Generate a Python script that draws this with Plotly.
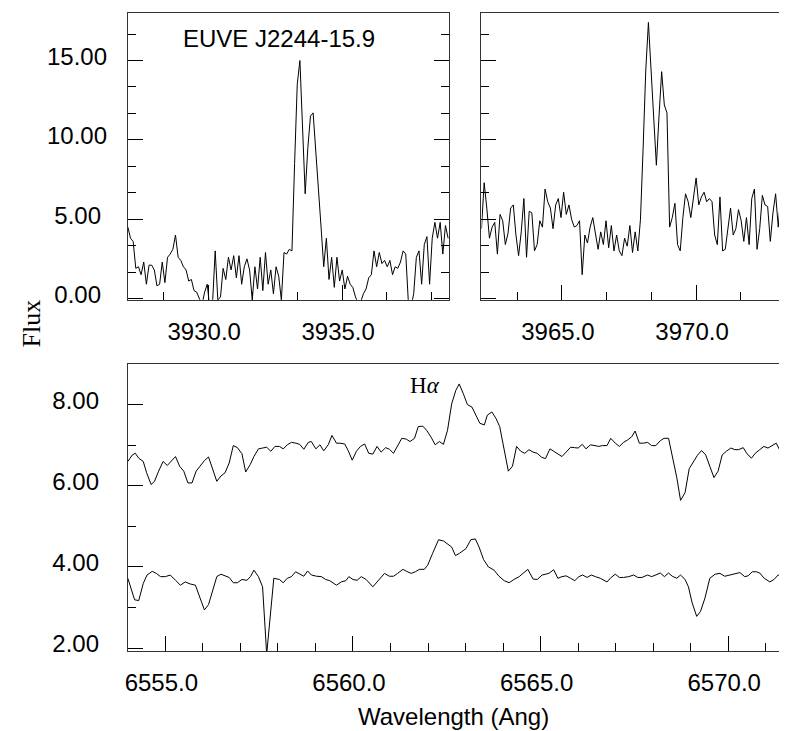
import plotly.graph_objects as go

# ---------------- data ----------------
# Ca II K region (top-left panel): uniform wavelength grid
k_start = 3927.0
k_step = 0.0988
k_flux = [
    4.5, 3.8, 3.6, 1.9, 2.0, 1.5, 2.3, 0.9, 2.1, 2.1,
    1.8, 0.8, 0.9, 2.3, 1.0, 2.6, 2.8, 3.1, 4.0, 2.6,
    2.4, 2.0, 1.8, 1.1, 1.2, 0.5, 0.4, 0.0, -0.4, 0.4,
    0.9, -0.7, -0.3, 3.0, -0.1, 0.1, 1.9, 1.2, 2.6, 1.8,
    2.7, 1.3, 2.7, 0.9, 2.0, 2.5, 1.8, -0.1, 2.0, 0.6,
    2.6, 0.5, 2.9, 0.9, 1.8, 0.3, 2.0, 1.4, -0.1, 2.9,
    2.8, 3.1, 3.0, 8.5, 13.5, 15.0, 11.0, 6.6, 9.5, 11.5,
    11.7, 9.5, 7.0, 4.5, 2.0, 3.8, 1.2, 2.6, 0.7, 2.6,
    1.1, 1.8, 0.6, 1.4, 0.9, 0.7, 0.1, -0.3, -0.2, 0.3,
    0.6, 1.3, 1.5, 3.0, 2.0, 2.9, 2.2, 2.4, 2.0, 2.4,
    1.5, 2.0, 1.9, 2.3, 3.0, 2.8, -0.3, -0.5, 0.3, 2.6,
    3.0, 0.9, 3.4, 3.9, 0.9, 3.8, 4.8, 3.8, 4.8, 2.8,
    4.6, 3.8,
]
k_wave = [k_start + i * k_step for i in range(len(k_flux))]

# Ca II H region (top-right panel)
h_start = 3962.0
h_step = 0.0988
h_flux = [
    4.4, 7.3, 5.7, 3.8, 4.5, 4.8, 2.8, 5.3, 4.9, 3.4,
    4.1, 5.7, 5.9, 4.0, 2.7, 4.2, 6.3, 2.6, 5.5, 5.4,
    3.0, 3.4, 4.9, 4.5, 6.9, 6.1, 5.7, 4.4, 5.9, 6.3,
    5.1, 6.7, 5.3, 5.9, 5.0, 4.5, 4.6, 4.9, 1.5, 4.0,
    3.5, 4.5, 5.1, 4.2, 3.1, 4.2, 3.4, 4.9, 3.2, 4.6,
    3.0, 4.0, 3.0, 2.7, 3.8, 3.3, 4.6, 2.9, 4.2, 3.0,
    5.0, 9.5, 14.4, 17.4, 14.3, 11.0, 8.4, 11.5, 14.3, 12.2,
    11.7, 4.5, 5.1, 6.0, 3.4, 3.0, 5.1, 6.6, 6.1, 5.1,
    6.2, 7.6, 5.9, 6.4, 6.7, 6.1, 6.3, 6.1, 4.0, 3.4,
    6.4, 3.0, 3.1, 4.6, 5.7, 4.0, 4.4, 5.6, 4.9, 3.6,
    5.1, 3.4, 6.3, 6.9, 3.1, 4.4, 6.5, 5.9, 5.8, 3.6,
    5.4, 6.6, 4.5, 6.6, 2.6, 3.4, 3.3, 4.0, 3.8, 4.2,
    4.0,
]
h_wave = [h_start + i * h_step for i in range(len(h_flux))]

# H-alpha region (bottom panel), upper spectrum
ha_top_wave = [
    6554.00, 6554.12, 6554.20, 6554.29, 6554.41, 6554.50, 6554.62, 6554.71, 6554.82, 6554.94,
    6555.05, 6555.15, 6555.27, 6555.38, 6555.49, 6555.60, 6555.71, 6555.82, 6555.93,
    6556.04, 6556.15, 6556.27, 6556.37, 6556.48, 6556.59, 6556.70, 6556.81, 6556.92,
    6557.04, 6557.14, 6557.26, 6557.36, 6557.48, 6557.59, 6557.70, 6557.81, 6557.92,
    6558.04, 6558.14, 6558.25, 6558.36, 6558.48, 6558.58, 6558.69, 6558.81, 6558.89,
    6559.01, 6559.12, 6559.22, 6559.34, 6559.44, 6559.56, 6559.65, 6559.78, 6559.87, 6559.98,
    6560.09, 6560.20, 6560.31, 6560.42, 6560.53, 6560.64, 6560.75, 6560.87, 6560.97,
    6561.08, 6561.19, 6561.30, 6561.42, 6561.52, 6561.64, 6561.74, 6561.86, 6561.96,
    6562.08, 6562.19, 6562.30, 6562.41, 6562.52, 6562.63, 6562.74, 6562.83, 6562.94,
    6563.05, 6563.17, 6563.28, 6563.38, 6563.50, 6563.58, 6563.70, 6563.81, 6563.91,
    6564.00, 6564.14, 6564.25, 6564.36, 6564.47, 6564.58, 6564.69, 6564.80, 6564.91,
    6565.03, 6565.13, 6565.25, 6565.35, 6565.47, 6565.57, 6565.68, 6565.80, 6565.90,
    6566.00, 6566.11, 6566.21, 6566.33, 6566.43, 6566.55, 6566.65, 6566.77, 6566.87, 6566.99,
    6567.10, 6567.21, 6567.32, 6567.43, 6567.52, 6567.63, 6567.74, 6567.85, 6567.96,
    6568.07, 6568.19, 6568.29, 6568.41, 6568.51, 6568.63, 6568.73, 6568.85, 6568.96,
    6569.07, 6569.18, 6569.29, 6569.40, 6569.51, 6569.62, 6569.73, 6569.84, 6569.95,
    6570.07, 6570.18, 6570.28, 6570.40, 6570.50, 6570.62, 6570.72, 6570.84, 6570.95,
    6571.06, 6571.17, 6571.28, 6571.39, 6571.49, 6571.59, 6571.68, 6571.78, 6571.90,
]
ha_top_flux = [
    6.60, 6.76, 6.80, 6.68, 6.60, 6.32, 6.03, 6.11, 6.36, 6.60,
    6.50, 6.60, 6.72, 6.48, 6.36, 6.07, 6.07, 6.36, 6.48,
    6.62, 6.71, 6.40, 6.11, 6.24, 6.32, 6.56, 6.99, 6.94,
    6.79, 6.34, 6.52, 6.72, 6.91, 6.93, 6.95, 6.85, 6.97,
    6.97, 6.91, 7.01, 7.07, 7.05, 7.02, 6.90, 7.07, 7.09,
    6.91, 7.01, 6.86, 7.01, 7.24, 7.05, 7.05, 7.03, 6.87, 6.63,
    6.85, 6.97, 7.03, 6.80, 6.78, 6.97, 6.83, 6.94, 6.90,
    6.80, 6.98, 7.17, 7.15, 7.09, 7.17, 7.46, 7.47, 7.37,
    7.20, 7.01, 7.09, 7.02, 7.37, 8.02, 8.35, 8.51, 8.27,
    8.00, 7.94, 7.74, 7.54, 7.50, 7.74, 7.82, 7.66, 7.46,
    7.01, 6.36, 6.48, 6.97, 6.85, 6.80, 6.89, 6.83, 6.80,
    6.70, 6.67, 6.91, 6.85, 6.79, 6.72, 6.83, 6.95, 6.94,
    6.93, 7.02, 6.91, 7.01, 6.99, 6.97, 6.99, 6.99, 7.17, 7.05,
    6.97, 7.07, 7.13, 7.21, 7.35, 7.05, 7.05, 7.07, 6.99,
    6.99, 7.11, 7.17, 7.17, 6.76, 6.20, 5.64, 5.83, 6.42,
    6.60, 6.75, 6.87, 6.76, 6.48, 6.20, 6.36, 6.76, 6.85,
    6.93, 6.89, 6.89, 6.94, 6.79, 6.68, 6.80, 6.89, 6.97,
    6.93, 6.99, 7.05, 6.85, 6.85, 7.09, 7.03, 6.86, 6.75,
]

# H-alpha region, lower spectrum
ha_low_wave = [
    6554.00, 6554.09, 6554.18, 6554.29, 6554.41, 6554.51, 6554.65, 6554.76, 6554.87,
    6555.00, 6555.13, 6555.27, 6555.40, 6555.53, 6555.66, 6555.80, 6555.93,
    6556.04, 6556.15, 6556.27, 6556.37, 6556.48, 6556.59, 6556.70, 6556.81, 6556.92,
    6557.04, 6557.17, 6557.27, 6557.36, 6557.48, 6557.59, 6557.70, 6557.89,
    6558.04, 6558.14, 6558.25, 6558.36, 6558.47, 6558.58, 6558.69, 6558.79, 6558.89,
    6559.03, 6559.16, 6559.27, 6559.38, 6559.56, 6559.69, 6559.81, 6559.89,
    6560.00, 6560.11, 6560.22, 6560.35, 6560.53, 6560.66, 6560.84, 6560.97,
    6561.08, 6561.19, 6561.33, 6561.43, 6561.55, 6561.66, 6561.77, 6561.90, 6561.99,
    6562.12, 6562.28, 6562.41, 6562.52, 6562.63, 6562.73, 6562.83,
    6563.01, 6563.14, 6563.26, 6563.36, 6563.48, 6563.61, 6563.76, 6563.89,
    6564.03, 6564.16, 6564.29, 6564.43, 6564.53, 6564.66, 6564.80, 6564.91,
    6565.04, 6565.22, 6565.35, 6565.46, 6565.57, 6565.68, 6565.80, 6565.91,
    6566.02, 6566.12, 6566.24, 6566.35, 6566.46, 6566.59, 6566.77, 6566.88, 6566.99,
    6567.10, 6567.21, 6567.35, 6567.48, 6567.59, 6567.70, 6567.85, 6567.96,
    6568.07, 6568.19, 6568.30, 6568.41, 6568.51, 6568.63, 6568.73, 6568.85, 6568.94,
    6569.04, 6569.16, 6569.26, 6569.38, 6569.51, 6569.65, 6569.78, 6569.91,
    6570.04, 6570.18, 6570.31, 6570.44, 6570.53, 6570.64, 6570.75, 6570.84, 6570.96,
    6571.11, 6571.22, 6571.33, 6571.43, 6571.55, 6571.68, 6571.78, 6571.90,
]
ha_low_flux = [
    3.72, 3.43, 3.19, 3.17, 3.59, 3.80, 3.89, 3.84, 3.76,
    3.76, 3.80, 3.67, 3.55, 3.63, 3.58, 3.55, 3.19,
    2.94, 3.07, 3.43, 3.76, 3.82, 3.77, 3.74, 3.61, 3.61,
    3.69, 3.67, 3.76, 3.92, 3.76, 3.51, 1.85, 3.72,
    3.69, 3.61, 3.72, 3.76, 3.88, 3.82, 3.77, 3.90, 3.80,
    3.77, 3.76, 3.69, 3.66, 3.55, 3.63, 3.66, 3.76,
    3.69, 3.67, 3.76, 3.69, 3.51, 3.66, 3.84, 3.77,
    3.77, 3.84, 3.94, 3.89, 3.84, 3.88, 3.94, 3.94, 4.04,
    4.33, 4.67, 4.64, 4.57, 4.49, 4.28, 4.33,
    4.45, 4.67, 4.69, 4.49, 4.18, 4.00, 3.92, 3.77,
    3.66, 3.61, 3.69, 3.76, 3.84, 3.94, 3.70, 3.69,
    3.80, 3.84, 3.93, 3.72, 3.76, 3.78, 3.72, 3.66,
    3.76, 3.80, 3.74, 3.80, 3.76, 3.72, 3.63, 3.74, 3.82,
    3.74, 3.74, 3.76, 3.80, 3.74, 3.74, 3.80, 3.76,
    3.80, 3.85, 3.76, 3.85, 3.77, 3.72, 3.80, 3.69, 3.51,
    3.11, 2.78, 2.90, 3.23, 3.72, 3.82, 3.84, 3.77,
    3.80, 3.82, 3.86, 3.76, 3.78, 3.88, 3.88, 3.85, 3.72,
    3.63, 3.69, 3.80, 3.80, 3.88, 3.93, 3.19, 2.90,
]

title_text = "EUVE J2244-15.9"
line_label = "H<i>α</i>"
x_title = "Wavelength (Ang)"
y_title = "Flux"

# ---------------- layout helpers ----------------
W, H = 787, 731


def fx(p):
    return p / W


def fy(p):
    return (H - p) / H


SANS = "Liberation Sans, Arial, Helvetica, sans-serif"
SERIF = "Liberation Serif, Times New Roman, serif"
tickfont = dict(family=SANS, size=24, color="black")
PADY = "\u2005"


def minor(dtick, tick0):
    return dict(ticks="inside", ticklen=8, tickwidth=1, tickcolor="black",
                dtick=dtick, tick0=tick0, showgrid=False)


base = dict(showline=True, linecolor="#333", linewidth=1, ticks="inside",
            ticklen=15, tickwidth=1, tickcolor="black", showgrid=False,
            zeroline=False, tickfont=tickfont)
xlab = dict(tickformat=".1f", ticklabelstandoff=10, ticklabelshift=-4)

fig = go.Figure()
line = dict(color="black", width=1)
fig.add_trace(go.Scatter(x=k_wave, y=k_flux, mode="lines", line=line, xaxis="x", yaxis="y"))
fig.add_trace(go.Scatter(x=h_wave, y=h_flux, mode="lines", line=line, xaxis="x2", yaxis="y2"))
fig.add_trace(go.Scatter(x=ha_top_wave, y=ha_top_flux, mode="lines", line=line, xaxis="x3", yaxis="y3"))
fig.add_trace(go.Scatter(x=ha_low_wave, y=ha_low_flux, mode="lines", line=line, xaxis="x3", yaxis="y3"))

top_dom = [fy(295), fy(5)]
bot_dom = [fy(650), fy(360)]
top_range = [-0.08, 18.0]
bot_range = [1.93, 9.0]

fig.update_layout(
    width=W, height=H, autosize=False,
    margin=dict(l=0, r=0, t=0, b=0, pad=0),
    paper_bgcolor="white", plot_bgcolor="white",
    showlegend=False,
    xaxis=dict(base, **xlab, domain=[fx(117.3), fx(440)], range=[3927, 3939], anchor="y",
               mirror=True, tickmode="linear", tick0=3930, dtick=5,
               minor=minor(5 / 3, 3930)),
    yaxis=dict(base, domain=top_dom, range=top_range, anchor="x", mirror="ticks",
               tickmode="linear", tick0=0, dtick=5, tickformat=".2f",
               labelalias={"0.00": "0.00" + PADY, "5.00": "5.00" + PADY},
               ticklabelstandoff=15, ticklabelshift=-4, minor=minor(5 / 3, 0)),
    xaxis2=dict(base, **xlab, domain=[fx(472.3), 1.0], range=[3962, 3973.69], anchor="y2",
                mirror=True, tickmode="linear", tick0=3965, dtick=5,
                minor=minor(5 / 3, 3965)),
    yaxis2=dict(base, domain=top_dom, range=top_range, anchor="x2", mirror=False,
                tickmode="linear", tick0=0, dtick=5, showticklabels=False,
                minor=minor(5 / 3, 0)),
    yaxis4=dict(overlaying="y2", side="right", anchor="x2", range=top_range,
                showline=False, showgrid=False, zeroline=False, ticks="inside",
                ticklen=7, tickcolor="black", tickmode="linear", tick0=0, dtick=5,
                showticklabels=False),
    xaxis3=dict(base, **xlab, domain=[fx(117.3), 1.0], range=[6554, 6571.78], anchor="y3",
                mirror=True, tickmode="linear", tick0=6555, dtick=5,
                minor=minor(1, 6555)),
    yaxis3=dict(base, domain=bot_dom, range=bot_range, anchor="x3", mirror=False,
                tickmode="linear", tick0=0, dtick=2, tickformat=".2f",
                ticklabelstandoff=23, ticklabelshift=-4, minor=minor(1, 0)),
    yaxis5=dict(overlaying="y3", side="right", anchor="x3", range=bot_range,
                showline=False, showgrid=False, zeroline=False, ticks="inside",
                ticklen=7, tickcolor="black", tickmode="linear", tick0=0, dtick=2,
                showticklabels=False),
    annotations=[
        dict(text=title_text, x=fx(269.5), y=fy(30.5), xref="paper", yref="paper",
             xanchor="center", yanchor="middle", showarrow=False,
             font=dict(family=SANS, size=24, color="black")),
        dict(text=line_label, x=fx(416), y=fy(381.5), xref="paper", yref="paper",
             xanchor="center", yanchor="middle", showarrow=False,
             font=dict(family=SERIF, size=23, color="black")),
        dict(text=y_title, x=fx(21), y=fy(319), xref="paper", yref="paper",
             xanchor="center", yanchor="middle", showarrow=False, textangle=-90,
             font=dict(family=SERIF, size=26, color="black")),
        dict(text=x_title, x=fx(444), y=fy(716.5), xref="paper", yref="paper",
             xanchor="center", yanchor="middle", showarrow=False,
             font=dict(family=SANS, size=24, color="black")),
    ],
)

fig.write_html("out.html")
